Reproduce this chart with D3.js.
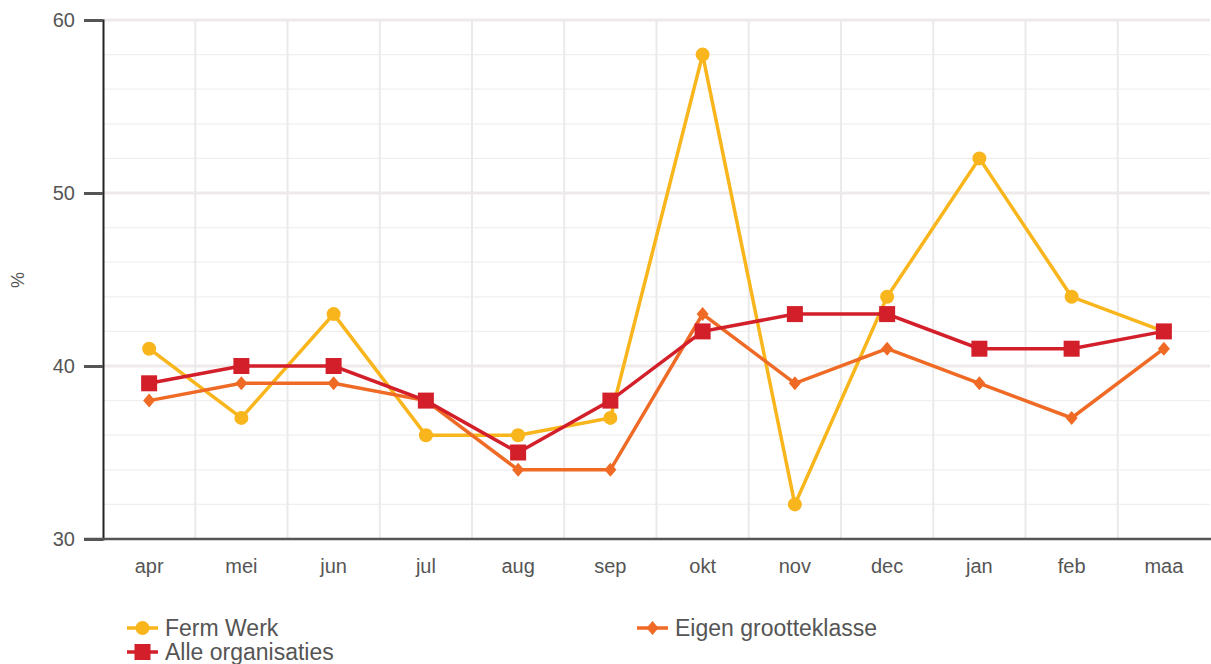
<!DOCTYPE html>
<html>
<head>
<meta charset="utf-8">
<script src="https://cdn.jsdelivr.net/npm/d3@7"></script>
<style>
body { margin:0; background:#fff; }
text { font-family: Arial, "Liberation Sans", sans-serif; }
</style>
</head>
<body>
<div id="chart"></div>
<script>
var months = ["apr","mei","jun","jul","aug","sep","okt","nov","dec","jan","feb","maa"];
var fermWerk = [41,37,43,36,36,37,58,32,44,52,44,42];
var eigenKlasse = [38,39,39,38,34,34,43,39,41,39,37,41];
var alleOrg = [39,40,40,38,35,38,42,43,43,41,41,42];
var yTicks = [30,40,50,60];

var width = 1211, height = 664;
var margin = {top:20, left:103, right:1, bottom:125};

var svg = d3.select("#chart").append("svg")
  .attr("width", width)
  .attr("height", height);

var x = d3.scaleBand()
  .domain(months)
  .range([margin.left, width - margin.right]);

var y = d3.scaleLinear()
  .domain([30, 60])
  .range([height - margin.bottom, margin.top]);

// grid
var grid = svg.append("g");
grid.selectAll(".hminor")
  .data(d3.range(32, 60, 2).filter(function(d){ return d % 10 != 0; }))
  .enter().append("line")
  .attr("x1", margin.left).attr("x2", width - margin.right)
  .attr("y1", function(d){ return y(d); })
  .attr("y2", function(d){ return y(d); })
  .attr("stroke", "#f2eeee")
  .attr("stroke-width", 1.2);
grid.selectAll(".hmajor")
  .data([40,50,60])
  .enter().append("line")
  .attr("x1", margin.left).attr("x2", width - margin.right)
  .attr("y1", function(d){ return y(d); })
  .attr("y2", function(d){ return y(d); })
  .attr("stroke", "#eeeaea")
  .attr("stroke-width", 3);
grid.selectAll(".vline")
  .data(months.slice(1))
  .enter().append("line")
  .attr("x1", function(d){ return x(d); })
  .attr("x2", function(d){ return x(d); })
  .attr("y1", margin.top).attr("y2", y(30))
  .attr("stroke", "#ebe9e9")
  .attr("stroke-width", 2);

// axes
var yAxis = svg.append("g")
  .attr("transform", "translate(" + margin.left + ",0)")
  .call(d3.axisLeft(y).tickValues(yTicks).tickSize(19).tickPadding(9));
yAxis.select(".domain").attr("stroke", "#222").attr("stroke-width", 2);
yAxis.selectAll(".tick line").attr("stroke", "#555").attr("stroke-width", 3);
yAxis.selectAll(".tick text").attr("fill", "#555").style("font-size", "20px");

svg.append("line")
  .attr("x1", 84).attr("x2", width)
  .attr("y1", y(30)).attr("y2", y(30))
  .attr("stroke", "#555").attr("stroke-width", 2.5);

var xAxis = svg.append("g")
  .attr("transform", "translate(0," + y(30) + ")")
  .call(d3.axisBottom(x).tickSize(0).tickPadding(20));
xAxis.select(".domain").remove();
xAxis.selectAll(".tick text").attr("fill", "#555").style("font-size", "20px");

svg.append("text")
  .attr("transform", "translate(24,280) rotate(-90)")
  .attr("text-anchor", "middle")
  .attr("fill", "#555")
  .style("font-size", "18px")
  .text("%");

var cx = function(d, i){ return x(months[i]) + x.bandwidth() / 2; };

var series = [
  {name:"Ferm Werk", values:fermWerk, color:"#f9b51c", shape:"circle"},
  {name:"Eigen grootteklasse", values:eigenKlasse, color:"#ee6a25", shape:"diamond"},
  {name:"Alle organisaties", values:alleOrg, color:"#d31f2a", shape:"square"}
];

function marker(g, shape, color) {
  if (shape == "circle") {
    g.append("circle").attr("r", 7).attr("fill", color);
  } else if (shape == "square") {
    g.append("rect").attr("x", -8).attr("y", -8).attr("width", 16).attr("height", 16).attr("fill", color);
  } else {
    g.append("path").attr("d", "M0,-7L6,0L0,7L-6,0Z").attr("fill", color);
  }
}

var line = d3.line()
  .x(cx)
  .y(function(d){ return y(d); });

series.forEach(function(s){
  svg.append("path")
    .datum(s.values)
    .attr("d", line)
    .attr("fill", "none")
    .attr("stroke", s.color)
    .attr("stroke-width", 3.5);
  svg.selectAll(".pt-" + s.shape)
    .data(s.values)
    .enter().append("g")
    .attr("transform", function(d, i){ return "translate(" + cx(d, i) + "," + y(d) + ")"; })
    .each(function(){ marker(d3.select(this), s.shape, s.color); });
});

// legend
var legendPos = [[127,628],[637,628],[127,652]];
series.forEach(function(s, i){
  var lg = svg.append("g")
    .attr("transform", "translate(" + legendPos[i][0] + "," + legendPos[i][1] + ")");
  lg.append("line").attr("x1", 0).attr("x2", 31).attr("y1", 0).attr("y2", 0)
    .attr("stroke", s.color).attr("stroke-width", 3.5);
  var m = lg.append("g").attr("transform", "translate(15.5,0)");
  marker(m, s.shape, s.color);
  lg.append("text").attr("x", 38).attr("y", 8)
    .attr("fill", "#555")
    .style("font-size", "23px")
    .text(s.name);
});
</script>
</body>
</html>
